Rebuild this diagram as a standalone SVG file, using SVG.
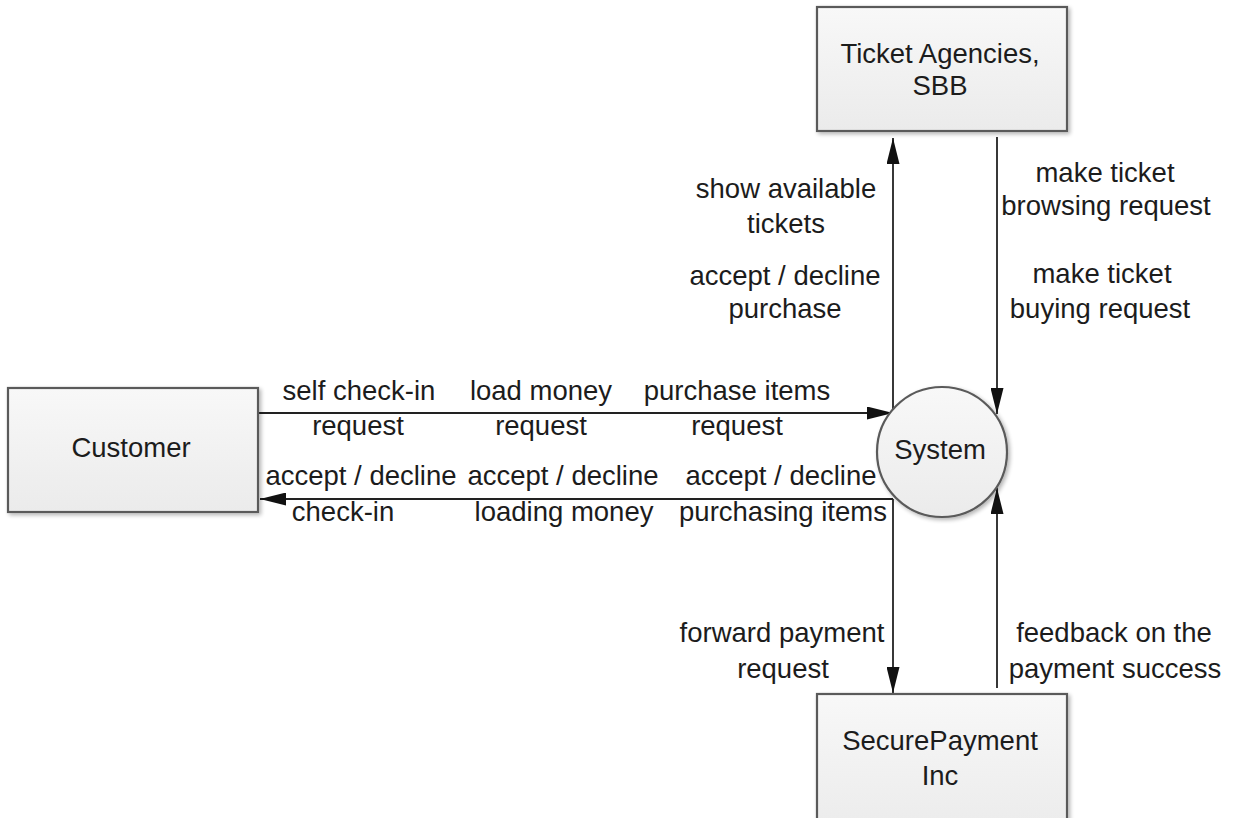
<svg xmlns="http://www.w3.org/2000/svg" width="1234" height="818" viewBox="0 0 1234 818">
<style>
.lbl{font-family:"Liberation Sans",Arial,sans-serif;font-size:27.5px;fill:#1c1c1c;text-anchor:middle}
.box{fill:url(#g);stroke:#5a5a5a;stroke-width:2.2}
.edge{stroke:#222;stroke-width:1.8;fill:none}
</style>
<defs>
<linearGradient id="g" x1="0" y1="0" x2="0" y2="1">
<stop offset="0" stop-color="#f8f8f8"/>
<stop offset="1" stop-color="#ebebeb"/>
</linearGradient>
<filter id="sh" x="-10%" y="-10%" width="130%" height="130%">
<feGaussianBlur in="SourceAlpha" stdDeviation="2"/>
<feOffset dx="2" dy="2" result="b"/>
<feComponentTransfer><feFuncA type="linear" slope="0.3"/></feComponentTransfer>
<feMerge><feMergeNode/><feMergeNode in="SourceGraphic"/></feMerge>
</filter>
<marker id="ah" markerUnits="userSpaceOnUse" markerWidth="26" markerHeight="13" refX="26" refY="6.5" orient="auto">
<path d="M0,0 L26,6.5 L0,13 z" fill="#111"/>
</marker>
</defs>
<rect width="1234" height="818" fill="#fff"/>
<g id="connectors">
<line class="edge" x1="259" y1="413" x2="893" y2="413" marker-end="url(#ah)"/>
<line class="edge" x1="893" y1="413" x2="893" y2="138" marker-end="url(#ah)"/>
<line class="edge" x1="893" y1="499" x2="260" y2="499" marker-end="url(#ah)"/>
<line class="edge" x1="893" y1="499" x2="893" y2="693" marker-end="url(#ah)"/>
<line class="edge" x1="997" y1="137" x2="997" y2="414" marker-end="url(#ah)"/>
<line class="edge" x1="997" y1="688" x2="997" y2="488" marker-end="url(#ah)"/>
<text class="lbl" x="359" y="400">self check-in</text>
<text class="lbl" x="358" y="435">request</text>
<text class="lbl" x="541" y="400">load money</text>
<text class="lbl" x="541" y="435">request</text>
<text class="lbl" x="737" y="400">purchase items</text>
<text class="lbl" x="737" y="435">request</text>
<text class="lbl" x="361" y="485">accept / decline</text>
<text class="lbl" x="343" y="521">check-in</text>
<text class="lbl" x="563" y="485">accept / decline</text>
<text class="lbl" x="564" y="521">loading money</text>
<text class="lbl" x="781" y="485">accept / decline</text>
<text class="lbl" x="783" y="521">purchasing items</text>
<text class="lbl" x="786" y="198">show available</text>
<text class="lbl" x="786" y="233">tickets</text>
<text class="lbl" x="785" y="285">accept / decline</text>
<text class="lbl" x="785" y="318">purchase</text>
<text class="lbl" x="1105" y="182">make ticket</text>
<text class="lbl" x="1106" y="215">browsing request</text>
<text class="lbl" x="1102" y="283">make ticket</text>
<text class="lbl" x="1100" y="318">buying request</text>
<text class="lbl" x="782" y="642">forward payment</text>
<text class="lbl" x="783" y="678">request</text>
<text class="lbl" x="1114" y="642">feedback on the</text>
<text class="lbl" x="1115" y="678">payment success</text>
</g>
<g id="ticket-agencies">
<rect class="box" x="817" y="7" width="250" height="124" filter="url(#sh)"/>
<text class="lbl" x="940" y="63">Ticket Agencies,</text>
<text class="lbl" x="940" y="95">SBB</text>
</g>
<g id="customer">
<rect class="box" x="8" y="388" width="250" height="124" filter="url(#sh)"/>
<text class="lbl" x="131" y="457">Customer</text>
</g>
<g id="system">
<circle class="box" cx="942" cy="452" r="65" filter="url(#sh)"/>
<text class="lbl" x="940" y="459">System</text>
</g>
<g id="securepayment">
<rect class="box" x="817" y="694" width="250" height="140" filter="url(#sh)"/>
<text class="lbl" x="940" y="750">SecurePayment</text>
<text class="lbl" x="940" y="785">Inc</text>
</g>
</svg>
